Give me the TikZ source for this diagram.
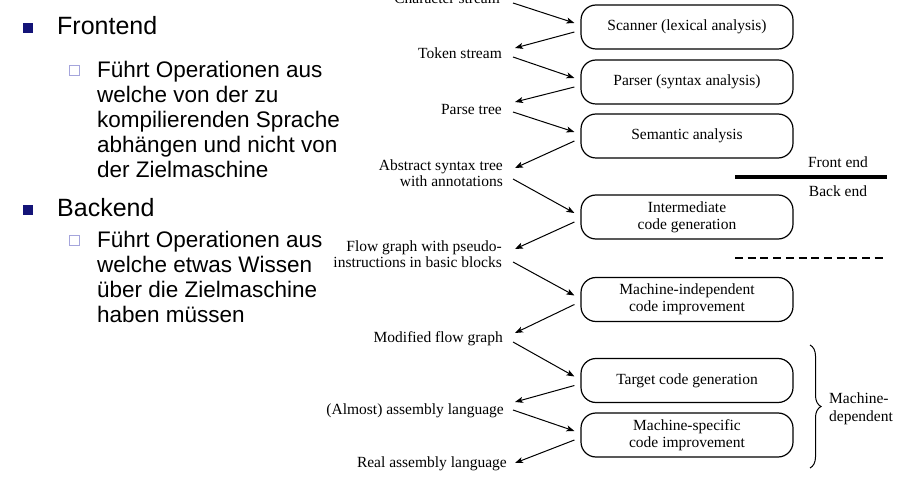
\documentclass[tikz,border=0pt]{standalone}
\usepackage{fontspec}
\setmainfont{Liberation Serif}
\newfontfamily\slidefont{Liberation Sans}
\usetikzlibrary{arrows.meta,decorations.pathreplacing}
\definecolor{bulletnavy}{RGB}{20,20,120}
\definecolor{subbullet}{RGB}{165,165,220}
\tikzset{
  stage/.style={draw, line width=1.2pt, rounded corners=15pt, minimum width=212pt,
    minimum height=44pt, inner sep=0pt, align=center, font=\fontsize{15.5}{17}\selectfont},
  datalabel/.style={anchor=base east, inner sep=0pt, align=right,
    font=\fontsize{15.5}{16.5}\selectfont},
  sidelabel/.style={inner sep=0pt, align=left, font=\fontsize{15.5}{18}\selectfont},
  flow/.style={-{Stealth[length=8pt,width=6pt,inset=2pt]}, line width=1pt},
  mainbullet/.style={fill=bulletnavy, minimum size=10pt, inner sep=0pt},
  subbox/.style={draw=subbullet, fill=white, line width=1pt, minimum size=10pt, inner sep=0pt},
  headtext/.style={anchor=base west, inner sep=0pt, font=\slidefont\fontsize{25}{30}\selectfont},
  bodytext/.style={anchor=base west, inner sep=0pt, align=left,
    font=\slidefont\fontsize{22.5}{25}\selectfont},
  inend/.style={shift={(-6,-4)}},
  outstart/.style={shift={(-6,5)}},
}
\begin{document}
\begin{tikzpicture}[x=1pt,y=-1pt]
\useasboundingbox (0,0) rectangle (910,478);

% bullet list on the left (multi-line nodes sit on the baseline of their last line)
\node[mainbullet] (b1) at (28,28) {};
\node[headtext] (front) at (57,35) {Frontend};
\node[subbox] (s1) at (74,70.5) {};
\node[bodytext] (fronttext) at (97,178) {Führt Operationen aus\\welche von der zu\\kompilierenden Sprache\\abhängen und nicht von\\der Zielmaschine};
\node[mainbullet] (b2) at (28,210) {};
\node[headtext] (back) at (57,217) {Backend};
\node[subbox] (s2) at (74,240.5) {};
\node[bodytext] (backtext) at (97,323) {Führt Operationen aus\\welche etwas Wissen\\über die Zielmaschine\\haben müssen};

% compiler phases
\node[stage] (scan)  at (687,27)    {Scanner (lexical analysis)};
\node[stage] (parse) at (687,82)    {Parser (syntax analysis)};
\node[stage] (sem)   at (687,136)   {Semantic analysis};
\node[stage] (inter) at (687,217)   {Intermediate\\code generation};
\node[stage] (mind)  at (687,299.5) {Machine-independent\\code improvement};
\node[stage] (tgt)   at (687,380.5) {Target code generation};
\node[stage] (mspec) at (687,435)   {Machine-specific\\code improvement};

% intermediate representations
\node[datalabel] (cs)   at (500,4)   {Character stream};
\node[datalabel] (ts)   at (502,59)  {Token stream};
\node[datalabel] (pt)   at (502,115) {Parse tree};
\node[datalabel] (ast)  at (503,187) {Abstract syntax tree\\with annotations};
\node[datalabel] (fg)   at (502,268) {Flow graph with pseudo-\\instructions in basic blocks};
\node[datalabel] (mfg)  at (503,342) {Modified flow graph};
\node[datalabel] (asm)  at (504,414) {(Almost) assembly language};
\node[datalabel] (real) at (507,467) {Real assembly language};

% data flow between representations and phases
\draw[flow] ([shift={(13,-1)}]cs.base east)  -- ([inend]scan.west);
\draw[flow] ([outstart]scan.west)  -- ([shift={(13,-11)}]ts.base east);
\draw[flow] ([shift={(11,-2)}]ts.base east)  -- ([inend]parse.west);
\draw[flow] ([outstart]parse.west) -- ([shift={(13,-13)}]pt.base east);
\draw[flow] ([shift={(11,-3)}]pt.base east)  -- ([inend]sem.west);
\draw[flow] ([outstart]sem.west)   -- ([shift={(12,-19)}]ast.base east);
\draw[flow] ([shift={(10,-8)}]ast.base east) -- ([inend]inter.west);
\draw[flow] ([outstart]inter.west) -- ([shift={(13,-19)}]fg.base east);
\draw[flow] ([shift={(11,-6)}]fg.base east)  -- ([inend]mind.west);
\draw[flow] ([outstart]mind.west)  -- ([shift={(12,-9)}]mfg.base east);
\draw[flow] ([shift={(10,0)}]mfg.base east)  -- ([inend]tgt.west);
\draw[flow] ([outstart]tgt.west)   -- ([shift={(11,-12)}]asm.base east);
\draw[flow] ([shift={(9,-4)}]asm.base east)  -- ([inend]mspec.west);
\draw[flow] ([outstart]mspec.west) -- ([shift={(8,-4)}]real.base east);

% front end / back end split
\draw[line width=4pt] (735,177) -- (887,177);
\node[inner sep=0pt, font=\fontsize{15.5}{17}\selectfont] (fe) at (838,162) {Front end};
\node[inner sep=0pt, font=\fontsize{15.5}{17}\selectfont] (be) at (838,191) {Back end};
\draw[line width=1.3pt, dash pattern=on 8pt off 4.7pt] (735,258) -- (887,258);

% machine-dependent group
\draw[line width=1pt, decorate, decoration={brace, amplitude=11pt}] (810,345) -- (810,468);
\node[sidelabel, anchor=west] (md) at (829,409) {Machine-\\dependent};
\end{tikzpicture}
\end{document}
